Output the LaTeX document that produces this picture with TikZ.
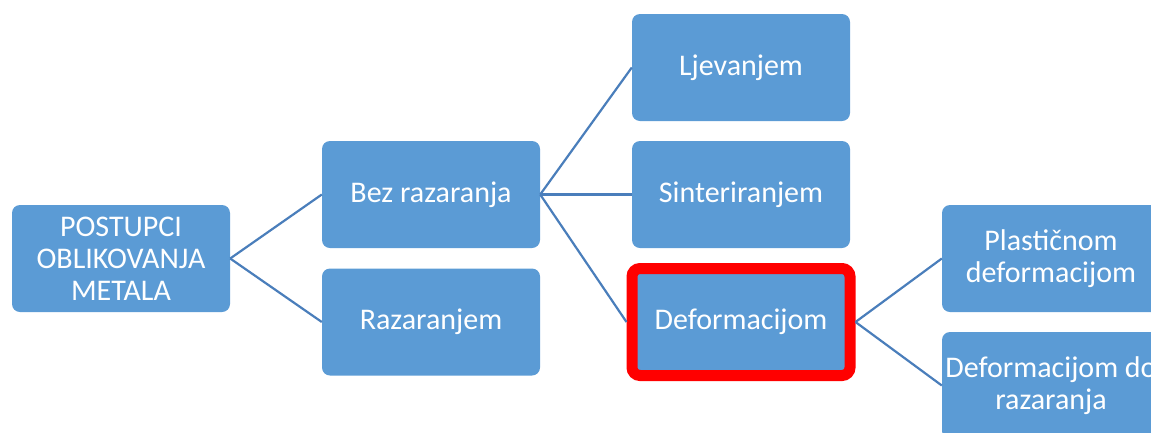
\documentclass[tikz,border=0pt]{standalone}
\usepackage{fontspec}
\setmainfont{Carlito}
\definecolor{boxblue}{RGB}{91,155,213}
\definecolor{lineblue}{RGB}{74,126,187}
\begin{document}
\begin{tikzpicture}[x=1pt,y=-1pt,
  blk/.style={rectangle,rounded corners=8pt,fill=boxblue,text=white,minimum width=218pt,minimum height=107pt,inner sep=0pt,align=center,font=\fontsize{30}{32}\selectfont},
  hilite/.style={draw=red,line width=11pt},
  conn/.style={draw=lineblue,line width=2.2pt}]
\clip (0,0) rectangle (1151,432);
\node[blk] (postupci) at (121,258.5) {POSTUPCI\\OBLIKOVANJA\\METALA};
\node[blk] (bez) at (431,194.5) {Bez razaranja};
\node[blk] (raz) at (431,322) {Razaranjem};
\node[blk] (ljev) at (741,67.5) {Ljevanjem};
\node[blk] (sint) at (741,194.5) {Sinteriranjem};
\node[blk,hilite] (def) at (741,322) {Deformacijom};
\node[blk] (plast) at (1051,258.5) {Plastičnom\\deformacijom};
\node[blk] (defdo) at (1051,385.5) {Deformacijom do\\razaranja};
\foreach \a/\b in %
{postupci/bez,postupci/raz,bez/ljev,bez/sint,bez/def,def/plast,def/defdo} {
   \draw[conn] (\a.east) -- (\b.west);
}
\end{tikzpicture}
\end{document}
